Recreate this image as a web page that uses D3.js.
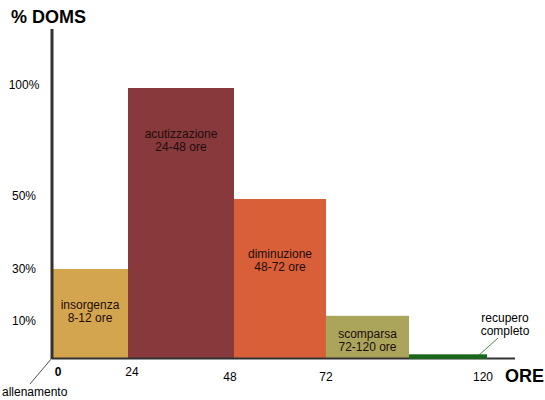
<!DOCTYPE html>
<html>
<head>
<meta charset="utf-8">
<script src="https://cdn.jsdelivr.net/npm/d3@7"></script>
<style>
  body { margin: 0; background: #fff; }
  text { font-family: Arial, "Liberation Sans", sans-serif; }
</style>
</head>
<body>
<div class="container"></div>
<script>
// phases of DOMS
let phases = ["insorgenza", "acutizzazione", "diminuzione", "scomparsa", "recupero"];
let startHours = [0, 24, 48, 72, 96];
let endHours = [24, 48, 72, 96, 120];
let domsValues = [30, 100, 50, 12, 1];
let phaseLabels = [
  ["insorgenza", "8-12 ore"],
  ["acutizzazione", "24-48 ore"],
  ["diminuzione", "48-72 ore"],
  ["scomparsa", "72-120 ore"],
  []
];
let colors = ["#d4a54f", "#88393c", "#d95f38", "#aaa55b", "#1c661c"];
let xTicks = [0, 24, 48, 72, 120];
let yTicks = [10, 30, 50, 100];

var svg = d3.select(".container")
  .append("svg")
  .attr("width", 545)
  .attr("height", 400);

// the original is hand drawn, so both scales are piecewise
let x = d3.scaleLinear()
  .domain([0, 24, 48, 72, 96, 120])
  .range([52, 128, 234, 326, 409, 487]);
let y = d3.scaleLinear()
  .domain([0, 10, 30, 50, 100])
  .range([358, 321, 269, 199, 88]);

let data = phases.map((p, i) => ({
  name: p,
  x0: startHours[i],
  x1: endHours[i],
  v: domsValues[i],
  lines: phaseLabels[i],
  color: colors[i],
}));

svg.selectAll("rect.bar")
  .data(data)
  .enter()
  .append("rect")
  .attr("class", "bar")
  .attr("x", (d) => x(d.x0))
  .attr("width", (d) => x(d.x1) - x(d.x0))
  .attr("y", (d) => y(d.v))
  .attr("height", (d) => y(0) - y(d.v))
  .attr("fill", (d) => d.color);

// bar labels, fraction of bar height for first baseline
let labelPos = [0.45, 0.185, 0.37, 0.52];
svg.selectAll("text.lbl")
  .data(data.filter((d) => d.lines.length))
  .enter()
  .append("text")
  .attr("class", "lbl")
  .attr("text-anchor", "middle")
  .attr("font-size", 12)
  .attr("fill", "#1d0c0c")
  .attr("x", (d) => (x(d.x0) + x(d.x1)) / 2)
  .attr("y", (d, i) => y(d.v) + (y(0) - y(d.v)) * labelPos[i])
  .selectAll("tspan")
  .data((d) => d.lines)
  .enter()
  .append("tspan")
  .attr("x", function () { return this.parentNode.getAttribute("x"); })
  .attr("dy", (d, i) => (i == 0 ? 0 : 13))
  .text((d) => d);

// axes
svg.append("line")
  .attr("x1", x(0)).attr("x2", x(0))
  .attr("y1", 29).attr("y2", y(0) + 1)
  .attr("stroke", "#333").attr("stroke-width", 3);
svg.append("line")
  .attr("x1", x(0)).attr("x2", 515)
  .attr("y1", y(0) + 0.5).attr("y2", y(0) + 0.5)
  .attr("stroke", "#333").attr("stroke-width", 2);

// recupero line on top of axis
svg.append("line")
  .attr("x1", x(96)).attr("x2", x(120))
  .attr("y1", y(0) - 1).attr("y2", y(0) - 1)
  .attr("stroke", colors[4]).attr("stroke-width", 4);

svg.selectAll("text.xt")
  .data(xTicks)
  .enter()
  .append("text")
  .attr("class", "xt")
  .attr("text-anchor", "middle")
  .attr("font-size", 12)
  .attr("font-weight", (d) => (d == 0 ? "bold" : "normal"))
  .attr("x", (d) => x(d) + (d == 0 ? 6 : d == 24 ? 4 : d == 48 ? -4 : d == 120 ? -4 : 0))
  .attr("y", (d) => (d <= 24 ? 376 : 381))
  .text((d) => d);

svg.selectAll("text.yt")
  .data(yTicks)
  .enter()
  .append("text")
  .attr("class", "yt")
  .attr("text-anchor", "middle")
  .attr("font-size", 12)
  .attr("x", 24)
  .attr("y", (d) => y(d) + (d >= 50 ? 1 : 4))
  .text((d) => d + "%");

svg.append("text")
  .attr("x", 11).attr("y", 23)
  .attr("font-size", 18).attr("font-weight", "bold")
  .text("% DOMS");
svg.append("text")
  .attr("x", 505).attr("y", 382)
  .attr("font-size", 18).attr("font-weight", "bold")
  .text("ORE");

// annotations
svg.append("line")
  .attr("x1", x(0)).attr("y1", y(0))
  .attr("x2", 30).attr("y2", 384)
  .attr("stroke", "#222").attr("stroke-width", 0.8);
svg.append("text")
  .attr("x", 2).attr("y", 396)
  .attr("font-size", 12)
  .text("allenamento");

svg.append("line")
  .attr("x1", 478).attr("y1", y(0) - 2)
  .attr("x2", 498).attr("y2", 338)
  .attr("stroke", "#1c661c").attr("stroke-width", 0.8);
svg.append("text")
  .attr("text-anchor", "middle")
  .attr("x", 505).attr("y", 322)
  .attr("font-size", 12)
  .selectAll("tspan")
  .data(["recupero", "completo"])
  .enter()
  .append("tspan")
  .attr("x", 505)
  .attr("dy", (d, i) => (i == 0 ? 0 : 13))
  .text((d) => d);
</script>
</body>
</html>
